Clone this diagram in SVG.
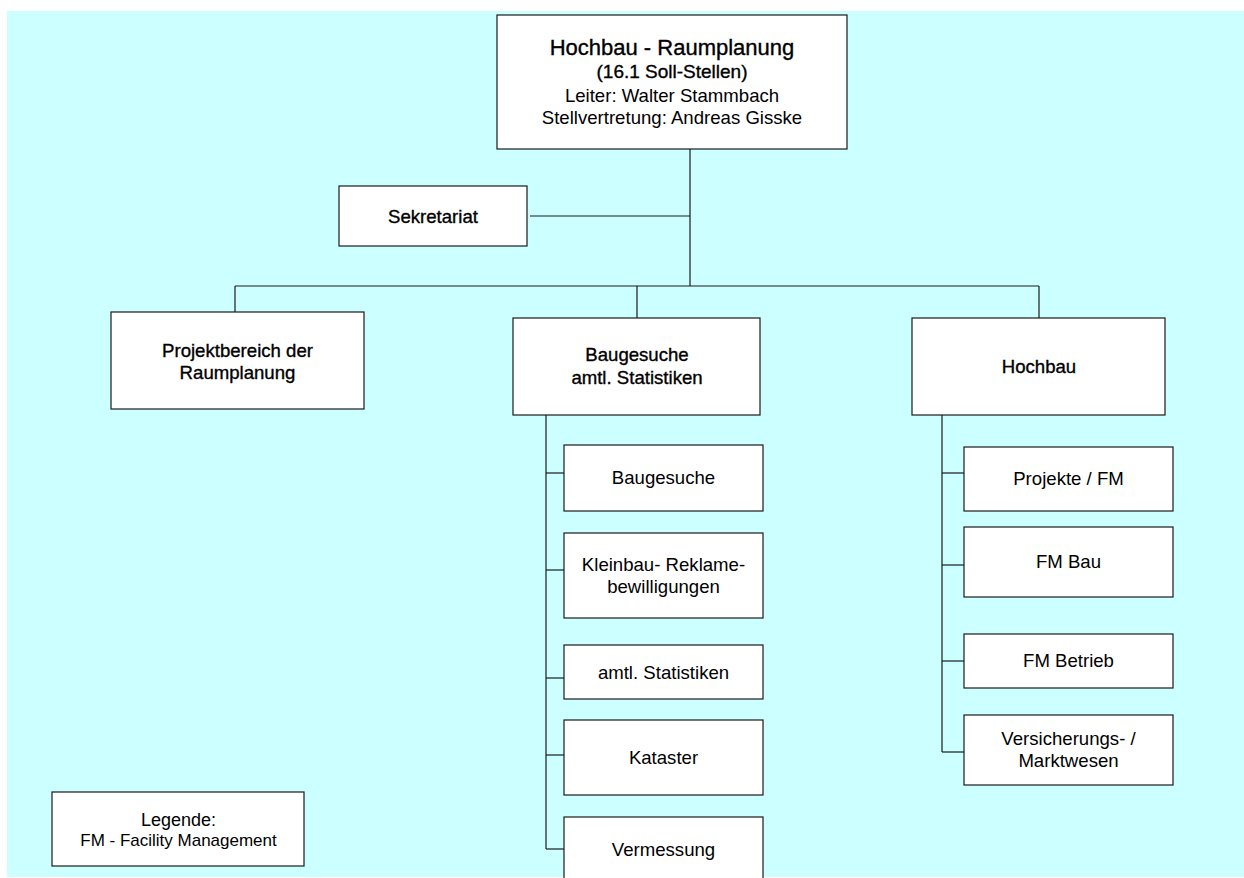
<svg xmlns="http://www.w3.org/2000/svg" width="1244" height="878" viewBox="0 0 1244 878">
  <style>
    .box { fill: #ffffff; stroke: #1a1a1a; stroke-width: 1.2; }
    .wire { fill: none; stroke: #1a1a1a; stroke-width: 1.2; }
    text { font-family: "Liberation Sans", Arial, sans-serif; fill: #000; text-anchor: middle; }
    .head { font-size: 18.6px; stroke: #000; stroke-width: 0.35; }
    .sub { font-size: 18.6px; }
    .title { font-size: 22px; stroke: #000; stroke-width: 0.35; }
    .count { font-size: 19px; stroke: #000; stroke-width: 0.35; }
    .legend { font-size: 17px; }
  </style>

  <!-- canvas -->
  <rect x="7" y="11" width="1237" height="866" fill="#ccffff"/>

  <!-- connectors -->
  <g id="connectors" class="wire">
    <path d="M690 149 V286"/>
    <path d="M530 216 H690"/>
    <path d="M235 286 H1039"/>
    <path d="M235 286 V312"/>
    <path d="M637 286 V318"/>
    <path d="M1039 286 V318"/>
    <path d="M546 415 V849"/>
    <path d="M546 473 H564"/>
    <path d="M546 570 H564"/>
    <path d="M546 678 H564"/>
    <path d="M546 755 H564"/>
    <path d="M546 849 H564"/>
    <path d="M942 415 V752"/>
    <path d="M942 473 H964"/>
    <path d="M942 565 H964"/>
    <path d="M942 661 H964"/>
    <path d="M942 752 H964"/>
  </g>

  <g id="leitung">
    <rect class="box" x="497" y="15" width="350" height="134"/>
    <text class="title" x="672" y="55">Hochbau - Raumplanung</text>
    <text class="count" x="672" y="78">(16.1 Soll-Stellen)</text>
    <text class="sub" x="672" y="102">Leiter: Walter Stammbach</text>
    <text class="sub" x="672" y="124">Stellvertretung: Andreas Gisske</text>
  </g>

  <g id="sekretariat">
    <rect class="box" x="339" y="186" width="188" height="60"/>
    <text class="head" x="433" y="222.5">Sekretariat</text>
  </g>

  <g id="projektbereich">
    <rect class="box" x="111" y="312" width="253" height="97"/>
    <text class="head" x="237.5" y="356.5">Projektbereich der</text>
    <text class="head" x="237.5" y="378.5">Raumplanung</text>
  </g>

  <g id="baugesuche-statistiken">
    <rect class="box" x="513" y="318" width="247" height="97"/>
    <text class="head" x="637" y="361">Baugesuche</text>
    <text class="head" x="637" y="384">amtl. Statistiken</text>
  </g>

  <g id="hochbau">
    <rect class="box" x="912" y="318" width="253" height="97"/>
    <text class="head" x="1039" y="372.5">Hochbau</text>
  </g>

  <g id="baugesuche">
    <rect class="box" x="564" y="445" width="199" height="66"/>
    <text class="sub" x="663.5" y="484">Baugesuche</text>
  </g>

  <g id="kleinbau">
    <rect class="box" x="564" y="533" width="199" height="85"/>
    <text class="sub" x="663.5" y="570.5">Kleinbau- Reklame-</text>
    <text class="sub" x="663.5" y="592.5">bewilligungen</text>
  </g>

  <g id="statistiken">
    <rect class="box" x="564" y="645" width="199" height="54"/>
    <text class="sub" x="663.5" y="679">amtl. Statistiken</text>
  </g>

  <g id="kataster">
    <rect class="box" x="564" y="720" width="199" height="75"/>
    <text class="sub" x="663.5" y="764">Kataster</text>
  </g>

  <g id="vermessung">
    <rect class="box" x="564" y="817" width="199" height="75"/>
    <text class="sub" x="663.5" y="856">Vermessung</text>
  </g>

  <g id="projekte-fm">
    <rect class="box" x="964" y="447" width="209" height="64"/>
    <text class="sub" x="1068.5" y="485">Projekte / FM</text>
  </g>

  <g id="fm-bau">
    <rect class="box" x="964" y="527" width="209" height="70"/>
    <text class="sub" x="1068.5" y="568">FM Bau</text>
  </g>

  <g id="fm-betrieb">
    <rect class="box" x="964" y="634" width="209" height="54"/>
    <text class="sub" x="1068.5" y="667">FM Betrieb</text>
  </g>

  <g id="versicherung">
    <rect class="box" x="964" y="715" width="209" height="70"/>
    <text class="sub" x="1068.5" y="745">Versicherungs- /</text>
    <text class="sub" x="1068.5" y="767">Marktwesen</text>
  </g>

  <g id="legende">
    <rect class="box" x="52" y="792" width="252" height="74"/>
    <text class="legend" x="178.5" y="825.5" style="font-size:18px">Legende:</text>
    <text class="legend" x="178.5" y="845.5">FM - Facility Management</text>
  </g>
</svg>
